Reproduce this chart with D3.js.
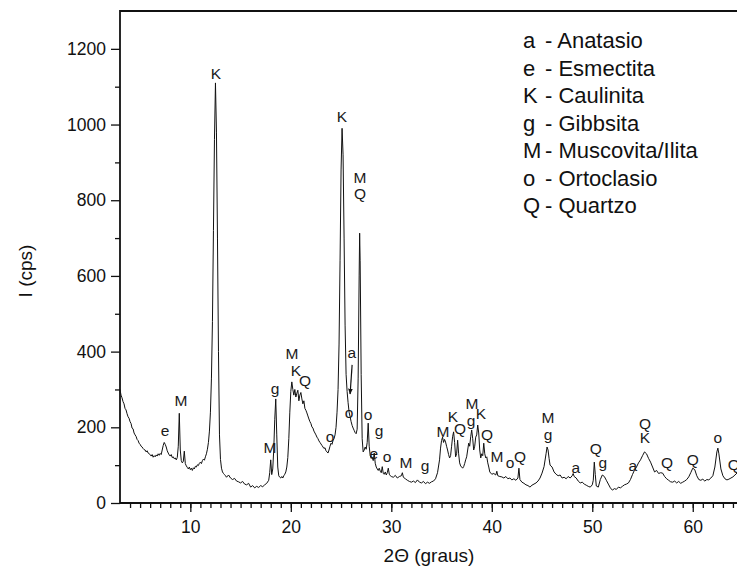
<!DOCTYPE html>
<html>
<head>
<meta charset="utf-8">
<script src="https://cdn.jsdelivr.net/npm/d3@7"></script>
<style>
  body { margin: 0; background: #fff; }
  svg { display: block; font-family: "Liberation Sans", Arial, sans-serif; }
</style>
</head>
<body>
<div id="chart"></div>
<script>
// diffractogram: [2theta, counts]
const pattern = [
  [3.0,300],[3.1,285],[3.2,278],[3.3,268],[3.4,262],[3.5,250],[3.6,246],[3.7,236],[3.8,228],[3.9,224],
  [4.0,215],[4.1,210],[4.2,198],[4.3,196],[4.4,185],[4.5,180],[4.6,176],[4.7,168],[4.8,165],[4.9,158],
  [5.0,155],[5.1,150],[5.2,148],[5.3,144],[5.4,141],[5.5,140],[5.6,135],[5.7,138],[5.8,132],[5.9,130],
  [6.0,128],[6.1,124],[6.2,128],[6.3,121],[6.4,125],[6.5,122],[6.6,127],[6.7,124],[6.8,130],[6.9,126],
  [7.0,131],[7.1,128],[7.2,140],[7.3,152],[7.4,160],[7.5,155],[7.6,148],[7.7,138],[7.8,132],[7.9,127],
  [8.0,124],[8.1,128],[8.2,120],[8.3,122],[8.4,117],[8.5,119],[8.6,114],[8.7,120],[8.8,150],[8.9,237],
  [9.0,140],[9.1,112],[9.2,106],[9.3,110],[9.4,137],[9.5,104],[9.6,98],[9.7,94],[9.8,90],[9.9,95],
  [10.0,88],[10.1,92],[10.2,86],[10.3,93],[10.4,90],[10.5,97],[10.6,95],[10.7,101],[10.8,99],[10.9,105],
  [11.0,108],[11.1,104],[11.2,112],[11.3,116],[11.4,113],[11.5,122],[11.6,130],[11.7,142],[11.8,160],[11.9,190],
  [12.0,240],[12.1,330],[12.2,480],[12.3,720],[12.4,960],[12.5,1110],[12.6,980],[12.7,700],[12.8,400],[12.9,180],
  [13.0,115],[13.1,92],[13.2,82],[13.3,78],[13.4,75],[13.5,72],[13.6,68],[13.8,74],[14.0,66],[14.2,62],
  [14.4,65],[14.6,58],[14.8,56],[15.0,53],[15.2,57],[15.4,50],[15.6,48],[15.8,52],[16.0,42],[16.2,46],
  [16.4,40],[16.6,44],[16.8,41],[17.0,46],[17.2,43],[17.4,48],[17.6,52],[17.8,60],[17.9,80],[18.0,114],
  [18.1,75],[18.2,90],[18.3,140],[18.4,220],[18.5,275],[18.6,180],[18.7,95],[18.8,72],[18.9,68],[19.0,66],
  [19.1,70],[19.2,66],[19.3,72],[19.4,76],[19.5,82],[19.6,95],[19.7,120],[19.8,170],[19.9,240],[20.0,295],
  [20.1,320],[20.2,300],[20.3,285],[20.4,300],[20.5,280],[20.6,290],[20.7,298],[20.8,270],[20.9,285],[21.0,292],
  [21.1,275],[21.2,262],[21.3,270],[21.4,250],[21.5,245],[21.6,238],[21.7,230],[21.8,222],[21.9,215],[22.0,210],
  [22.1,201],[22.2,198],[22.3,190],[22.4,185],[22.5,180],[22.6,174],[22.7,170],[22.8,164],[22.9,160],[23.0,156],
  [23.1,152],[23.2,148],[23.3,144],[23.4,146],[23.5,138],[23.6,135],[23.7,132],[23.8,140],[23.9,150],[24.0,158],
  [24.1,155],[24.2,165],[24.3,170],[24.4,180],[24.5,200],[24.6,240],[24.7,300],[24.8,420],[24.9,640],[25.0,880],
  [25.1,990],[25.2,920],[25.3,700],[25.4,470],[25.5,340],[25.6,295],[25.7,265],[25.8,240],[25.9,228],[26.0,215],
  [26.1,205],[26.2,198],[26.3,192],[26.4,186],[26.5,183],[26.6,195],[26.7,330],[26.8,600],[26.85,713],[26.9,640],
  [27.0,340],[27.1,170],[27.2,135],[27.3,140],[27.4,148],[27.5,142],[27.6,160],[27.7,211],[27.8,150],[27.9,125],
  [28.0,118],[28.1,121],[28.2,112],[28.3,132],[28.4,105],[28.5,95],[28.6,90],[28.7,86],[28.8,92],[28.9,84],
  [29.0,80],[29.1,96],[29.2,78],[29.3,76],[29.4,82],[29.5,74],[29.6,80],[29.7,92],[29.8,76],[29.9,72],
  [30.0,70],[30.2,68],[30.4,73],[30.6,66],[30.8,70],[31.0,72],[31.1,80],[31.2,68],[31.4,64],[31.6,60],
  [31.8,57],[32.0,55],[32.2,58],[32.4,54],[32.6,61],[32.8,55],[33.0,53],[33.2,57],[33.4,51],[33.6,55],
  [33.8,52],[34.0,56],[34.2,58],[34.4,64],[34.6,80],[34.8,114],[34.9,145],[35.0,165],[35.1,174],[35.2,160],
  [35.3,168],[35.4,161],[35.5,150],[35.6,140],[35.7,128],[35.8,119],[35.9,125],[36.0,150],[36.1,175],[36.2,188],
  [36.3,160],[36.4,122],[36.5,130],[36.6,166],[36.7,130],[36.8,106],[36.9,98],[37.0,95],[37.1,92],[37.2,96],
  [37.3,104],[37.4,114],[37.5,122],[37.6,140],[37.7,158],[37.8,150],[37.9,175],[38.0,193],[38.1,170],[38.2,140],
  [38.3,150],[38.4,174],[38.5,180],[38.6,206],[38.7,185],[38.8,140],[38.9,119],[39.0,130],[39.1,125],[39.2,158],
  [39.3,130],[39.4,119],[39.5,122],[39.6,106],[39.7,95],[39.8,82],[39.9,79],[40.0,76],[40.2,78],[40.4,74],
  [40.5,84],[40.6,72],[40.8,70],[41.0,69],[41.2,66],[41.4,70],[41.6,64],[41.8,66],[42.0,61],[42.2,64],
  [42.4,60],[42.6,66],[42.7,92],[42.8,62],[43.0,55],[43.2,52],[43.4,48],[43.6,46],[43.8,42],[44.0,47],
  [44.2,50],[44.4,53],[44.6,58],[44.8,66],[45.0,79],[45.2,96],[45.4,130],[45.5,148],[45.6,140],[45.7,118],
  [45.8,100],[46.0,95],[46.2,82],[46.4,76],[46.6,72],[46.8,74],[47.0,66],[47.2,68],[47.4,64],[47.6,70],
  [47.8,66],[48.0,72],[48.1,78],[48.2,70],[48.4,66],[48.6,58],[48.8,53],[49.0,55],[49.2,50],[49.4,47],
  [49.6,44],[49.8,42],[50.0,48],[50.1,60],[50.2,108],[50.3,75],[50.4,45],[50.6,42],[50.8,62],[51.0,74],
  [51.2,70],[51.4,60],[51.6,50],[51.8,40],[52.0,34],[52.2,38],[52.4,36],[52.6,42],[52.8,40],[53.0,44],
  [53.2,48],[53.4,50],[53.6,53],[53.8,62],[54.0,75],[54.2,87],[54.4,95],[54.6,106],[54.8,114],[55.0,125],
  [55.2,135],[55.4,130],[55.6,118],[55.8,108],[56.0,95],[56.2,82],[56.4,86],[56.6,78],[56.8,80],[57.0,79],
  [57.2,70],[57.4,64],[57.6,60],[57.8,56],[58.0,55],[58.2,58],[58.4,53],[58.6,57],[58.8,52],[59.0,55],
  [59.2,58],[59.4,62],[59.6,69],[59.8,80],[60.0,92],[60.2,88],[60.4,72],[60.6,62],[60.8,60],[61.0,63],
  [61.2,58],[61.4,62],[61.6,61],[61.8,66],[62.0,72],[62.2,95],[62.4,135],[62.5,145],[62.6,130],[62.8,90],
  [63.0,72],[63.2,64],[63.4,61],[63.6,63],[63.8,66],[64.0,69],[64.2,74],[64.4,79],[64.6,75],[64.8,72],[65.0,70]
];

// phase letters written over the peaks: [letter, 2theta, counts]
const peakLabels = [
  ["K",12.55,1136],["e",7.48,193],["M",9.07,272],["M",17.93,148],["g",18.42,304],
  ["M",20.11,394],["K",20.51,349],["Q",21.41,325],["K",25.09,1022],["M",26.88,859],["Q",26.88,819],
  ["a",26.08,399],["o",25.79,240],["o",27.68,235],["g",28.77,193],["e",28.27,132],["o",29.57,124],
  ["M",31.46,106],["o",23.9,177],["g",33.35,100],["M",35.14,188],["K",36.13,230],["Q",36.83,198],
  ["g",37.93,219],["M",38.03,264],["K",38.92,238],["Q",39.52,182],["M",40.51,122],["o",41.81,106],
  ["Q",42.8,124],["M",45.59,225],["g",45.59,182],["a",48.37,95],["Q",50.36,145],["g",51.06,106],
  ["a",54.04,100],["Q",55.24,211],["K",55.24,172],["Q",57.43,108],["Q",60.01,114],["o",62.5,174],
  ["Q",64.09,103]
];

// arrow pointing at the anatase reflection: [from 2theta, from counts, to 2theta, to counts]
const arrows = [[26.1, 365, 25.9, 288]];

const phaseKeys = ["a", "e", "K", "g", "M", "o", "Q"];
const phaseNames = ["Anatasio", "Esmectita", "Caulinita", "Gibbsita", "Muscovita/Ilita", "Ortoclasio", "Quartzo"];

const xMajor = [10, 20, 30, 40, 50, 60];
const yMajor = [0, 200, 400, 600, 800, 1000, 1200];

const width = 737;
const height = 575;
const ink = "#111";

const x = d3.scaleLinear().domain([3, 65]).range([120, 743]);
const y = d3.scaleLinear().domain([0, 1300]).range([503, 11]);

const svg = d3
  .select("#chart")
  .append("svg")
  .attr("width", width)
  .attr("height", height);

svg.append("defs")
  .append("marker")
  .attr("id", "head")
  .attr("viewBox", "0 0 10 10")
  .attr("refX", 9)
  .attr("refY", 5)
  .attr("markerWidth", 5)
  .attr("markerHeight", 7)
  .attr("orient", "auto")
  .append("path")
  .attr("d", "M0,1 L10,5 L0,9 Z")
  .attr("fill", ink);

// minor ticks
svg.append("g")
  .attr("transform", `translate(0,${y(0)})`)
  .call(d3.axisBottom(x).tickValues(d3.range(4, 65)).tickSize(5).tickFormat("").tickSizeOuter(0))
  .call((g) => g.select(".domain").remove());
svg.append("g")
  .attr("transform", `translate(${x(3)},0)`)
  .call(d3.axisLeft(y).tickValues(d3.range(100, 1300, 200)).tickSize(5).tickFormat("").tickSizeOuter(0))
  .call((g) => g.select(".domain").remove());

// major ticks
const xAxis = svg.append("g")
  .attr("transform", `translate(0,${y(0)})`)
  .call(d3.axisBottom(x).tickValues(xMajor).tickSize(9).tickPadding(9).tickSizeOuter(0));
const yAxis = svg.append("g")
  .attr("transform", `translate(${x(3)},0)`)
  .call(d3.axisLeft(y).tickValues(yMajor).tickFormat(d3.format("d")).tickSize(9).tickPadding(5).tickSizeOuter(0));

[xAxis, yAxis].forEach((g) => {
  g.select(".domain").remove();
  g.selectAll("text").attr("font-size", 17.5).attr("fill", ink).attr("font-family", null);
});
svg.selectAll(".tick line").attr("stroke", ink).attr("stroke-width", 1.3);

// frame
svg.append("path")
  .attr("d", `M${x(3)},${y(0)} H${width} M${x(3)},${y(0)} V${y(1300)} H${width}`)
  .attr("fill", "none")
  .attr("stroke", ink)
  .attr("stroke-width", 1.8);

// pattern
svg.append("path")
  .datum(pattern)
  .attr("d", d3.line().x((d) => x(d[0])).y((d) => y(d[1])))
  .attr("fill", "none")
  .attr("stroke", ink)
  .attr("stroke-width", 1)
  .attr("stroke-linejoin", "round");

// peak letters
svg.append("g")
  .selectAll("text")
  .data(peakLabels)
  .join("text")
  .attr("x", (d) => x(d[1]))
  .attr("y", (d) => y(d[2]))
  .attr("dy", "0.36em")
  .attr("text-anchor", "middle")
  .attr("font-size", 15.5)
  .attr("fill", "#1a1a1a")
  .text((d) => d[0]);

svg.append("g")
  .selectAll("line")
  .data(arrows)
  .join("line")
  .attr("x1", (d) => x(d[0]))
  .attr("y1", (d) => y(d[1]))
  .attr("x2", (d) => x(d[2]))
  .attr("y2", (d) => y(d[3]))
  .attr("stroke", ink)
  .attr("stroke-width", 1.2)
  .attr("marker-end", "url(#head)");

// legend
const legend = svg.append("g").attr("font-size", 22).attr("fill", ink);
phaseKeys.forEach((k, i) => {
  const row = legend.append("g").attr("transform", `translate(523,${48 + i * 27.5})`);
  row.append("text").text(k);
  row.append("text").attr("x", 22).text("- " + phaseNames[i]);
});

// axis titles
svg.append("text")
  .attr("x", 429)
  .attr("y", 562)
  .attr("text-anchor", "middle")
  .attr("font-size", 19)
  .attr("fill", ink)
  .text("2\u0398 (graus)");

svg.append("text")
  .attr("transform", "translate(32,271) rotate(-90)")
  .attr("text-anchor", "middle")
  .attr("font-size", 19)
  .attr("fill", ink)
  .text("I (cps)");
</script>
</body>
</html>
